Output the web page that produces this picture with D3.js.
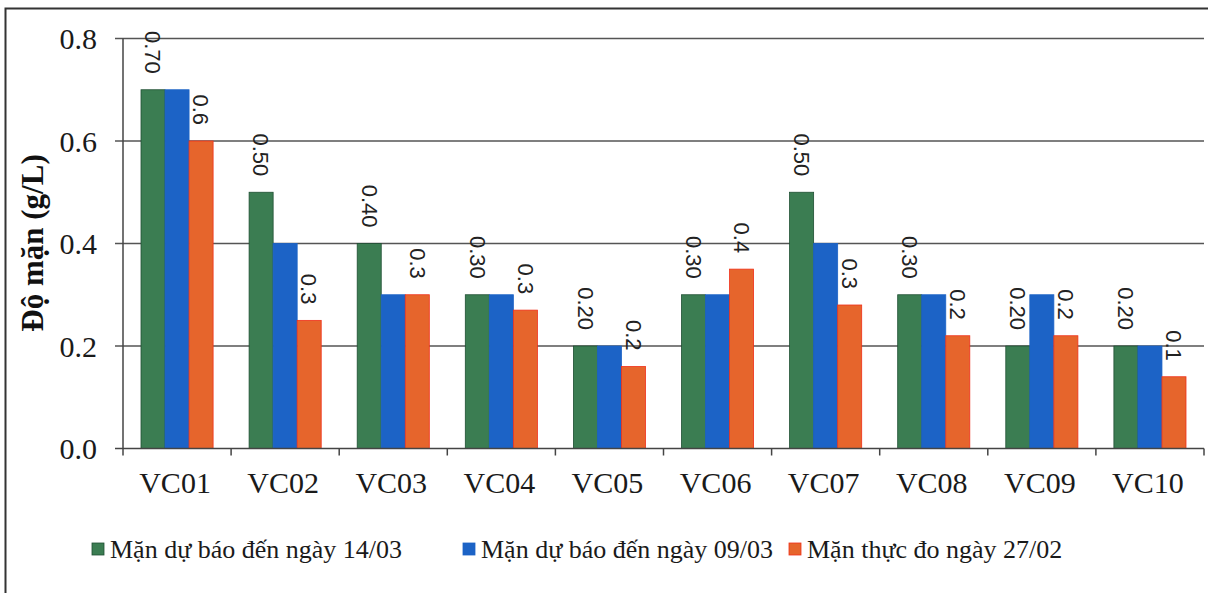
<!DOCTYPE html>
<html>
<head>
<meta charset="utf-8">
<script src="https://cdn.jsdelivr.net/npm/d3@7"></script>
<style>
  body { margin: 0; background: #fff; }
  svg { display: block; }
</style>
</head>
<body>
<div id="chart"></div>
<script>
// data
var stations = ['VC01','VC02','VC03','VC04','VC05','VC06','VC07','VC08','VC09','VC10'];
var seriesNames = ['Mặn dự báo đến ngày 14/03', 'Mặn dự báo đến ngày 09/03', 'Mặn thực đo ngày 27/02'];
var forecast1403 = [0.70, 0.50, 0.40, 0.30, 0.20, 0.30, 0.50, 0.30, 0.20, 0.20];
var forecast0903 = [0.70, 0.40, 0.30, 0.30, 0.20, 0.30, 0.40, 0.30, 0.30, 0.20];
var measured2702 = [0.60, 0.25, 0.30, 0.27, 0.16, 0.35, 0.28, 0.22, 0.22, 0.14];
var yTicks = [0.0, 0.2, 0.4, 0.6, 0.8];
var colors = ['#3b7d52', '#1c63c6', '#e6652c'];
var strokes = ['#1f4f33', '#1c63c6', '#f0301a'];

var SERIF = '"Liberation Serif", "Times New Roman", serif';
var SANS = '"Liberation Sans", Arial, sans-serif';

var W = 1208, H = 593;
var plotLeft = 123, plotRight = 1204, plotTop = 38.5, plotBottom = 448.5;

var svg = d3.select('#chart').append('svg')
  .attr('width', W).attr('height', H);

// outer frame (left and top edge visible)
svg.append('path')
  .attr('d', 'M5.5,593 L5.5,8.5 L1208,8.5')
  .attr('fill', 'none').attr('stroke', '#333').attr('stroke-width', 2);

var x = d3.scaleBand().domain(stations).range([plotLeft, plotRight]).padding(0);
var bw = x.bandwidth();
var xs = d3.scaleBand().domain([0, 1, 2]).range([18, bw - 18]).padding(0);
var y = d3.scaleLinear().domain([0, 0.8]).range([plotBottom, plotTop]);

// gridlines
svg.append('g').selectAll('line')
  .data(yTicks.filter(function(d) { return d > 0; }))
  .enter().append('line')
  .attr('x1', plotLeft - 8).attr('x2', plotRight)
  .attr('y1', function(d) { return y(d); })
  .attr('y2', function(d) { return y(d); })
  .attr('stroke', '#555').attr('stroke-width', 1.5);

// y tick labels
svg.append('g').selectAll('text')
  .data(yTicks).enter().append('text')
  .attr('x', 97).attr('y', function(d) { return y(d); })
  .attr('dy', '0.35em')
  .attr('text-anchor', 'end')
  .style('font-family', SERIF)
  .attr('font-size', 30).attr('fill', '#1a1a1a')
  .text(function(d) { return d3.format('.1f')(d); });

// bars
var series = [forecast1403, forecast0903, measured2702];
series.forEach(function(vals, s) {
  svg.append('g').selectAll('rect')
    .data(vals).enter().append('rect')
    .attr('x', function(d, i) { return x(stations[i]) + xs(s); })
    .attr('y', function(d) { return y(d); })
    .attr('width', xs.bandwidth())
    .attr('height', function(d) { return y(0) - y(d); })
    .attr('fill', colors[s])
    .attr('stroke', strokes[s]).attr('stroke-width', 0.8);
});

// value labels (green and orange only), rotated
var fmt2 = d3.format('.2f'), fmt1 = d3.format('.1f');
[[0, forecast1403, fmt2], [2, measured2702, fmt1]].forEach(function(cfg) {
  var s = cfg[0], vals = cfg[1], f = cfg[2];
  svg.append('g').selectAll('text')
    .data(vals).enter().append('text')
    .attr('transform', function(d, i) {
      var cx = x(stations[i]) + xs(s) + xs.bandwidth() / 2;
      return 'translate(' + cx + ',' + (y(d) - 16) + ') rotate(90)';
    })
    .attr('text-anchor', 'end')
    .attr('dy', '0.35em')
    .style('font-family', SANS)
    .attr('font-size', 22).attr('fill', '#222')
    .text(function(d) { return f(d + 1e-9); });
});

// y axis line
svg.append('line')
  .attr('x1', plotLeft).attr('x2', plotLeft)
  .attr('y1', plotTop).attr('y2', plotBottom)
  .attr('stroke', '#444').attr('stroke-width', 1.5);

// x axis line and ticks
svg.append('line')
  .attr('x1', plotLeft - 8).attr('x2', plotRight)
  .attr('y1', plotBottom).attr('y2', plotBottom)
  .attr('stroke', '#444').attr('stroke-width', 1.5);
var bounds = stations.map(function(d) { return x(d); }).concat([plotRight]);
svg.append('g').selectAll('line')
  .data(bounds).enter().append('line')
  .attr('x1', function(d) { return d; }).attr('x2', function(d) { return d; })
  .attr('y1', plotBottom).attr('y2', plotBottom + 7)
  .attr('stroke', '#444').attr('stroke-width', 1.5);

// x labels
svg.append('g').selectAll('text')
  .data(stations).enter().append('text')
  .attr('x', function(d) { return x(d) + bw / 2 - 2; })
  .attr('y', 493)
  .attr('text-anchor', 'middle')
  .style('font-family', SERIF)
  .attr('font-size', 30).attr('fill', '#1a1a1a')
  .text(function(d) { return d; });

// y title
svg.append('text')
  .attr('transform', 'translate(43,243) rotate(-90)')
  .attr('text-anchor', 'middle')
  .style('font-family', SERIF)
  .attr('font-weight', 'bold')
  .attr('font-size', 31).attr('fill', '#111')
  .text('Độ mặn (g/L)');

// legend
var legendX = [92, 463, 789];
var lg = svg.append('g').selectAll('g')
  .data(seriesNames).enter().append('g')
  .attr('transform', function(d, i) { return 'translate(' + legendX[i] + ',0)'; });
lg.append('rect')
  .attr('x', 0).attr('y', 543).attr('width', 12).attr('height', 12)
  .attr('fill', function(d, i) { return colors[i]; })
  .attr('stroke', function(d, i) { return strokes[i]; }).attr('stroke-width', 0.8);
lg.append('text')
  .attr('x', 18).attr('y', 558)
  .style('font-family', SERIF)
  .attr('font-size', 26).attr('fill', '#1a1a1a')
  .text(function(d) { return d; });
</script>
</body>
</html>
